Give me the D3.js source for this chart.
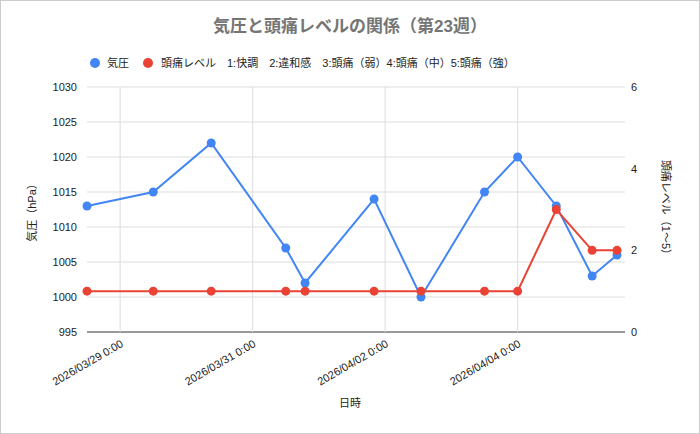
<!DOCTYPE html>
<html><head><meta charset="utf-8">
<script src="https://cdn.jsdelivr.net/npm/d3@7"></script>
<style>body{margin:0;background:#fff;font-family:"Liberation Sans","Noto Sans CJK JP",sans-serif}</style>
</head><body><div id="chart"></div>
<script>
var times = ["2026-03-28T12:00","2026-03-29T12:00","2026-03-30T09:00","2026-03-31T12:00","2026-03-31T19:00",
  "2026-04-01T20:00","2026-04-02T13:00","2026-04-03T12:00","2026-04-04T00:00","2026-04-04T14:00",
  "2026-04-05T03:00","2026-04-05T12:00"];
var pressure = [1013,1015,1022,1007,1002,1014,1000,1015,1020,1013,1003,1006];
var headache = [1,1,1,1,1,1,1,1,1,3,2,2];
var xTicks = ["2026-03-29T00:00","2026-03-31T00:00","2026-04-02T00:00","2026-04-04T00:00"];
var leftTicks = [995,1000,1005,1010,1015,1020,1025,1030];
var rightTicks = [0,2,4,6];

var W = 700, H = 434, pl = 87, pr = 625, pt = 87, pb = 332;
var parse = d3.timeParse("%Y-%m-%dT%H:%M");
var data = times.map(function (t, i) { return { t: parse(t), p: pressure[i], h: headache[i] }; });

var svg = d3.select("#chart").append("svg").attr("width", W).attr("height", H);
svg.append("rect").attr("x", 0.5).attr("y", 0.5).attr("width", W - 1).attr("height", H - 1)
  .attr("fill", "#fff").attr("stroke", "#ccc");

var x = d3.scaleTime().domain(d3.extent(data, function (d) { return d.t; })).range([pl, 617]);
var y = d3.scaleLinear().domain([995, 1030]).range([pb, pt]);
var y2 = d3.scaleLinear().domain([0, 6]).range([pb, pt]);

// grid
svg.append("g").selectAll("line").data(leftTicks).join("line")
  .attr("x1", pl).attr("x2", pr).attr("y1", y).attr("y2", y)
  .attr("stroke", function (d) { return d === 995 ? "#333" : "#ddd"; });
svg.append("g").selectAll("line").data(xTicks).join("line")
  .attr("x1", function (d) { return x(parse(d)); }).attr("x2", function (d) { return x(parse(d)); })
  .attr("y1", pt).attr("y2", pb).attr("stroke", "#ddd");

// tick labels
svg.append("g").selectAll("text").data(leftTicks).join("text")
  .attr("x", pl - 10).attr("y", function (d) { return y(d) + 4; }).attr("text-anchor", "end")
  .attr("font-size", 11).attr("fill", "#222").text(function (d) { return d; });
svg.append("g").selectAll("text").data(rightTicks).join("text")
  .attr("x", 631).attr("y", function (d) { return y2(d) + 4; })
  .attr("font-size", 11).attr("fill", "#222").text(function (d) { return d; });
svg.append("g").selectAll("text").data(xTicks).join("text")
  .attr("transform", function (d) { return "translate(" + (x(parse(d)) + 4) + "," + (pb + 14) + ") rotate(-30)"; })
  .attr("text-anchor", "end").attr("font-size", 11).attr("fill", "#222")
  .text(function (d) { return d3.timeFormat("%Y/%m/%d 0:00")(parse(d)); });

// lines
var colors = { p: "#4285f4", h: "#ea4335" };
var lineP = d3.line().x(function (d) { return x(d.t); }).y(function (d) { return y(d.p); });
var lineH = d3.line().x(function (d) { return x(d.t); }).y(function (d) { return y2(d.h); });
svg.append("path").datum(data).attr("d", lineP).attr("fill", "none").attr("stroke", colors.p).attr("stroke-width", 2);
svg.append("g").selectAll("circle").data(data).join("circle")
  .attr("cx", function (d) { return x(d.t); }).attr("cy", function (d) { return y(d.p); }).attr("r", 4.5).attr("fill", colors.p);
svg.append("path").datum(data).attr("d", lineH).attr("fill", "none").attr("stroke", colors.h).attr("stroke-width", 2);
svg.append("g").selectAll("circle").data(data).join("circle")
  .attr("cx", function (d) { return x(d.t); }).attr("cy", function (d) { return y2(d.h); }).attr("r", 4.5).attr("fill", colors.h);

// titles
svg.append("text").attr("x", 350).attr("y", 32).attr("text-anchor", "middle")
  .attr("font-size", 17).attr("font-weight", "bold").attr("fill", "#757575").text("気圧と頭痛レベルの関係（第23週）");
svg.append("text").attr("x", 350).attr("y", 407).attr("text-anchor", "middle")
  .attr("font-size", 11).attr("fill", "#222").text("日時");
svg.append("text").attr("transform", "translate(36,210) rotate(-90)").attr("text-anchor", "middle")
  .attr("font-size", 11).attr("fill", "#222").text("気圧（hPa）");
svg.append("text").attr("transform", "translate(662,210) rotate(90)").attr("text-anchor", "middle")
  .attr("font-size", 11).attr("fill", "#222").text("頭痛レベル（1〜5）");

// legend
var leg = svg.append("g").attr("font-size", 11).attr("fill", "#222");
leg.append("circle").attr("cx", 95).attr("cy", 63).attr("r", 5).attr("fill", colors.p);
leg.append("text").attr("x", 107).attr("y", 67).text("気圧");
leg.append("circle").attr("cx", 148).attr("cy", 63).attr("r", 5).attr("fill", colors.h);
leg.append("text").attr("x", 161).attr("y", 67).attr("xml:space", "preserve")
  .text("頭痛レベル　1:快調　2:違和感　3:頭痛（弱）4:頭痛（中）5:頭痛（強）");
</script></body></html>
